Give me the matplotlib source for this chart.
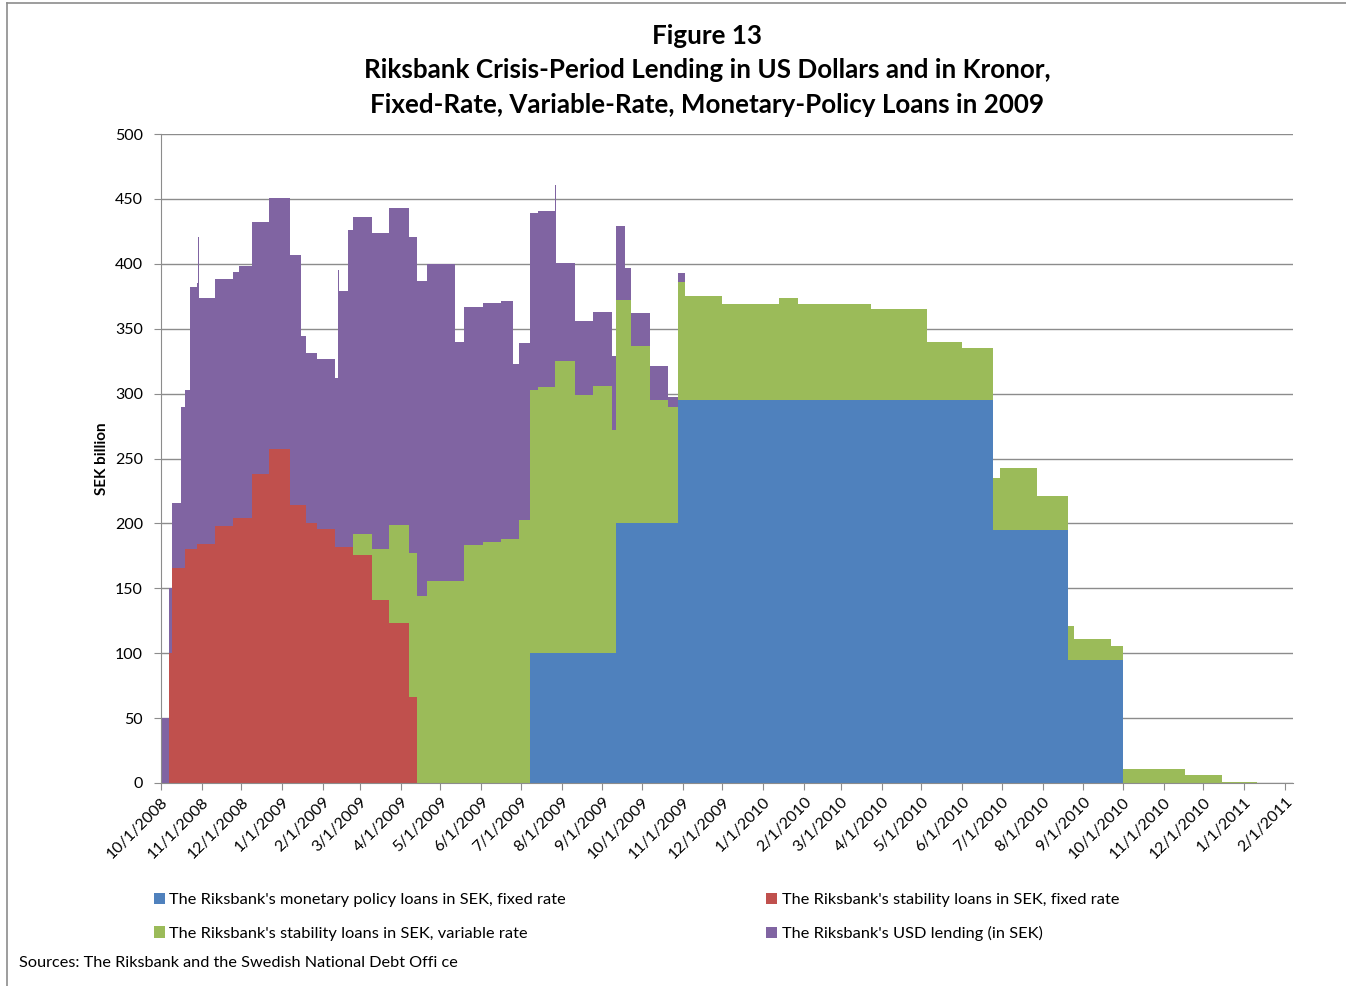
import matplotlib
matplotlib.use('Agg')
import matplotlib.pyplot as plt
import matplotlib.dates as mdates
from matplotlib.ticker import FuncFormatter
from matplotlib.lines import Line2D
import numpy as np

plt.rcParams['font.family'] = ['Lato', 'DejaVu Sans']

# change points (each value holds until the next date)
dates = ['2008-10-01', '2008-10-07', '2008-10-09', '2008-10-16', '2008-10-19', '2008-10-23',
         '2008-10-28', '2008-10-29', '2008-10-30', '2008-11-11', '2008-11-25', '2008-11-29',
         '2008-12-09', '2008-12-22', '2009-01-07', '2009-01-15', '2009-01-19', '2009-01-27',
         '2009-02-10', '2009-02-12', '2009-02-13', '2009-02-20', '2009-02-24', '2009-03-10',
         '2009-03-23', '2009-04-07', '2009-04-13', '2009-04-21', '2009-05-12', '2009-05-19',
         '2009-06-02', '2009-06-16', '2009-06-25', '2009-06-30', '2009-07-08', '2009-07-14',
         '2009-07-27', '2009-07-28', '2009-08-11', '2009-08-25', '2009-09-08', '2009-09-11',
         '2009-09-18', '2009-09-23', '2009-10-07', '2009-10-21', '2009-10-28', '2009-11-03',
         '2009-12-01', '2010-01-13', '2010-01-27', '2010-03-24', '2010-05-05', '2010-06-01',
         '2010-06-24', '2010-06-30', '2010-07-28', '2010-08-20', '2010-08-25', '2010-09-22',
         '2010-10-01', '2010-11-17', '2010-12-15', '2011-01-11']

monetary_fixed = [0] * 34 + [100] * 7 + [200] * 5 + [295] * 8 + [195] * 3 + [95] * 3 + [0] * 4

stability_fixed = [0, 100, 166, 166, 180, 180, 184, 184, 184, 198, 204, 204,
                   238, 257, 214, 214, 200, 196, 182, 182, 182, 182, 176, 141,
                   123, 66] + [0] * 38

stability_variable = [0] * 22 + [16, 39, 76, 111, 144, 156, 156, 183, 186, 188, 188, 203,
                                 203, 205, 225, 225, 199, 206, 172, 172, 172, 137, 95, 90,
                                 91, 80, 74, 79, 74, 70, 45, 40, 40, 48, 26, 26,
                                 16, 10.5, 11, 6, 1, 0]

usd_lending = [50, 50, 50, 124, 123, 202, 201, 237, 190, 190, 190, 194,
               194, 194, 193, 130, 131, 131, 130, 213, 197, 244, 244, 244,
               244, 244, 243, 244, 184, 184, 184, 183, 135, 136, 136, 136,
               136, 76, 57, 57, 57, 57, 25, 25, 26, 7, 7] + [0] * 17

labels = ["The Riksbank's monetary policy loans in SEK, fixed rate",
          "The Riksbank's stability loans in SEK, fixed rate",
          "The Riksbank's stability loans in SEK, variable rate",
          "The Riksbank's USD lending (in SEK)"]
colors = ['#4F81BD', '#C0504D', '#9BBB59', '#8064A2']

W, H = 1346, 986
fig = plt.figure(figsize=(W / 100, H / 100), dpi=100)
ax = fig.add_axes([161 / W, 1 - 783 / H, (1293 - 161) / W, (783 - 134) / H])

x = np.array(dates, dtype='datetime64[D]')
polys = ax.stackplot(x, monetary_fixed, stability_fixed, stability_variable, usd_lending,
                     colors=colors, labels=labels, step='post', linewidth=0)

ax.set_xlim(np.datetime64('2008-10-01'), np.datetime64('2011-02-07'))
ax.set_ylim(0, 500)
ax.set_yticks(range(0, 501, 50))
ax.xaxis.set_major_locator(mdates.MonthLocator())
ax.xaxis.set_major_formatter(FuncFormatter(
    lambda v, p: '{d.month}/{d.day}/{d.year}'.format(d=mdates.num2date(v))))

ax.grid(axis='y', color='#8c8c8c', linewidth=1)
ax.set_axisbelow(True)
for s in ['top', 'right']:
    ax.spines[s].set_visible(False)
for s in ['left', 'bottom']:
    ax.spines[s].set_color('#8c8c8c')
ax.tick_params(axis='both', color='#8c8c8c', length=5, labelsize=11.5, labelcolor='black')
ax.tick_params(axis='y', pad=8)
plt.setp(ax.get_xticklabels(), rotation=45, ha='right', rotation_mode='anchor')

ax.set_ylabel('SEK billion', fontsize=11, fontweight='bold', labelpad=4)

title_kw = dict(ha='center', va='center', fontsize=18.7, fontweight='bold')
fig.text(707 / W, 1 - 36 / H, 'Figure 13', **title_kw)
fig.text(707 / W, 1 - 70 / H, 'Riksbank Crisis-Period Lending in US Dollars and in Kronor,', **title_kw)
fig.text(707 / W, 1 - 105 / H, 'Fixed-Rate, Variable-Rate, Monetary-Policy Loans in 2009', **title_kw)

handles = [polys[0], polys[2], polys[1], polys[3]]
leg_labels = [labels[0], labels[2], labels[1], labels[3]]
fig.legend(handles, leg_labels, loc='center left', bbox_to_anchor=(139 / W, 1 - 917 / H),
           ncol=2, frameon=False, fontsize=11.8, handlelength=0.7, handleheight=0.7,
           handletextpad=0.25, columnspacing=12.2, labelspacing=1.15)

fig.text(19 / W, 1 - 963 / H, 'Sources: The Riksbank and the Swedish National Debt Offi ce',
         ha='left', va='center', fontsize=11.7)

fig.add_artist(Line2D([7 / W, 7 / W], [0, 1 - 3 / H], color='#8c8c8c', linewidth=1.2))
fig.add_artist(Line2D([7 / W, 1], [1 - 3 / H, 1 - 3 / H], color='#8c8c8c', linewidth=1.2))

fig.savefig('out.png', dpi=100)
